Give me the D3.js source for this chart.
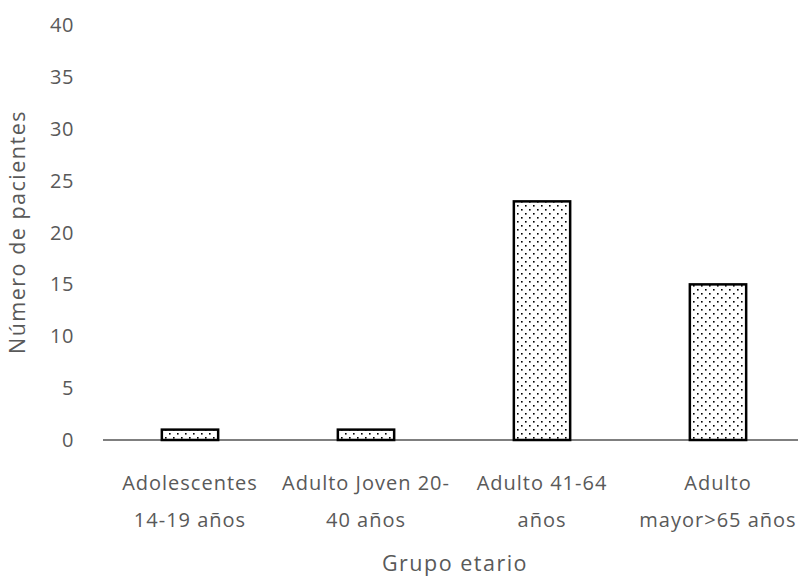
<!DOCTYPE html>
<html><head><meta charset="utf-8">
<script src="https://cdn.jsdelivr.net/npm/d3@7"></script>
<style>body{margin:0;background:#fff}svg{display:block}</style>
</head><body>
<script>
const categories = [["Adolescentes","14-19 años"],["Adulto Joven 20-","40 años"],["Adulto 41-64","años"],["Adulto","mayor>65 años"]];
const values = [1, 1, 23, 15];
const yTicks = [0,5,10,15,20,25,30,35,40];

const W=798,H=576;
const svg=d3.select("body").append("svg").attr("width",W).attr("height",H);
const defs=svg.append("defs");
const pat=defs.append("pattern").attr("id","dots").attr("patternUnits","userSpaceOnUse").attr("width",8).attr("height",8);
pat.append("rect").attr("width",8).attr("height",8).attr("fill","#fff");
pat.append("rect").attr("x",1).attr("y",1).attr("width",1.6).attr("height",1.6).attr("fill","#000");
pat.append("rect").attr("x",5).attr("y",5).attr("width",1.6).attr("height",1.6).attr("fill","#000");

const x=d3.scaleBand().domain(categories.map((d,i)=>i)).range([102,806]).paddingInner(0.68).paddingOuter(0.34);
const y=d3.scaleLinear().domain([0,40]).range([440,25]);
const font="'Open Sans', sans-serif";
const fs=20, ls="1px";
const tfs=21.5, tls="1.5px";
const gray="#595959";

svg.append("g").selectAll("text").data(yTicks).join("text")
 .attr("x",74).attr("y",d=>y(d)).attr("dy","0.35em").attr("text-anchor","end")
 .attr("font-family",font).attr("font-size",fs).attr("letter-spacing","0.6px").attr("fill",gray).text(d=>d);

svg.append("g").selectAll("rect").data(values).join("rect")
 .attr("x",(d,i)=>x(i)).attr("width",x.bandwidth())
 .attr("y",d=>y(d)).attr("height",d=>y(0)-y(d))
 .attr("fill","url(#dots)").attr("stroke","#000").attr("stroke-width",2.5);

svg.append("line").attr("x1",103).attr("x2",798).attr("y1",y(0)).attr("y2",y(0)).attr("stroke","#000").attr("stroke-width",1.2);

const lab=svg.append("g").selectAll("text").data(categories).join("text")
 .attr("text-anchor","middle").attr("font-family",font).attr("font-size",fs).attr("letter-spacing",ls).attr("fill",gray);
lab.each(function(d,i){
  const t=d3.select(this);
  d.forEach((s,j)=>t.append("tspan").attr("x",x(i)+x.bandwidth()/2).attr("y",490+j*37).text(s));
});

svg.append("text").attr("x",455).attr("y",571).attr("text-anchor","middle")
 .attr("font-family",font).attr("font-size",tfs).attr("letter-spacing",tls).attr("fill",gray).text("Grupo etario");
svg.append("text").attr("transform","translate(25,232) rotate(-90)").attr("text-anchor","middle")
 .attr("font-family",font).attr("font-size",tfs).attr("letter-spacing",tls).attr("fill",gray).text("Número de pacientes");
</script>
</body></html>
